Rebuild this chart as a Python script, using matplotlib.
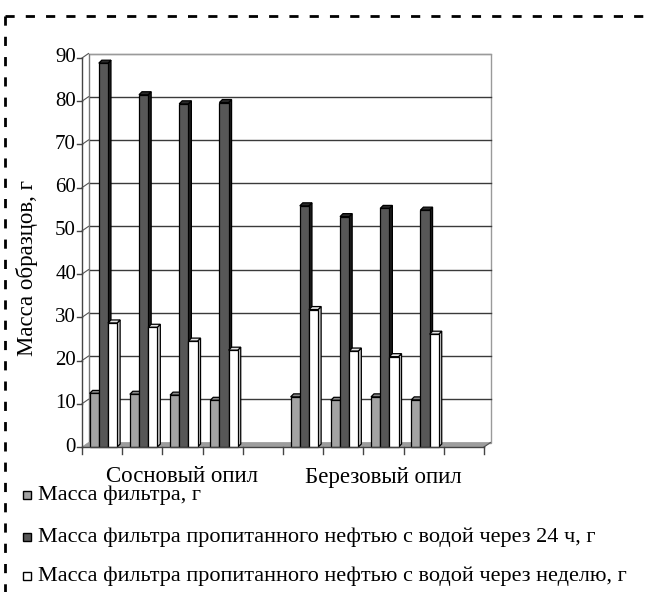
import matplotlib
matplotlib.use("Agg")
import matplotlib.pyplot as plt
from matplotlib.patches import Polygon, Rectangle
from matplotlib.lines import Line2D

plt.rcParams['font.family'] = ['Liberation Serif', 'DejaVu Serif']

# ---- data ----
categories = ["Сосновый опил", "Березовый опил"]
series_names = [
    "Масса фильтра, г",
    "Масса фильтра пропитанного нефтью с водой через 24 ч, г",
    "Масса фильтра пропитанного нефтью с водой через неделю, г",
]
filter_mass = [12.4, 12.2, 12.0, 10.8, 11.6, 10.8, 11.6, 10.9]
mass_24h = [88.8, 81.5, 79.4, 79.7, 55.8, 53.3, 55.2, 54.8]
mass_week = [28.7, 27.7, 24.5, 22.4, 31.8, 22.2, 20.9, 26.1]
slots = [0, 1, 2, 3, 5, 6, 7, 8]          # slot 4 and 9 are empty
n_slots = 10
y_ticks = [0, 10, 20, 30, 40, 50, 60, 70, 80, 90]
y_label = "Масса образцов, г"

# face / side / top colours for each series
front_cols = ["#a3a3a3", "#575757", "#ffffff"]
side_cols = ["#6e6e6e", "#1c1c1c", "#d0d0d0"]
top_cols = ["#8a8a8a", "#2a2a2a", "#e6e6e6"]

W, H = 647, 592
fig = plt.figure(figsize=(W / 100, H / 100), dpi=100)

# front plane of the 3-D box: x 82..484 px, y 447..58 px
x0, x1, yb, yt = 82, 484, 447, 58
ax = fig.add_axes([x0 / W, (H - yb) / H, (x1 - x0) / W, (yb - yt) / H])
ax.set_xlim(0, n_slots)
ax.set_ylim(0, 90)
ax.axis("off")

px_x = n_slots / (x1 - x0)   # data units per pixel
px_y = 90 / (yb - yt)
DX, DY = 6.5 * px_x, 4.5 * px_y   # wall depth
BX, BY = 3.0 * px_x, 3.0 * px_y   # bar depth

lw = 0.9
# back wall
ax.add_patch(Rectangle((DX, DY), n_slots, 90, facecolor="white",
                       edgecolor="#9a9a9a", lw=1.0, zorder=1, clip_on=False))
# floor
ax.add_patch(Polygon([(0, 0), (n_slots, 0), (n_slots + DX, DY), (DX, DY)],
                     closed=True, facecolor="#9d9d9d", edgecolor="#9d9d9d",
                     lw=0.5, zorder=1.5, clip_on=False))
# gridlines on back wall and left wall
for v in y_ticks[1:]:
    col = "#9a9a9a" if v == 90 else "#3a3a3a"
    ax.add_line(Line2D([DX, n_slots + DX], [v + DY, v + DY], color=col,
                       lw=1.0, zorder=1.2, clip_on=False))
    ax.add_line(Line2D([0, DX], [v, v + DY], color="#555555", lw=0.8,
                       zorder=1.2, clip_on=False))
ax.add_line(Line2D([DX, DX], [DY, 90 + DY], color="#777777", lw=0.8,
                   zorder=1.2, clip_on=False))
ax.add_line(Line2D([n_slots, n_slots + DX], [0, DY], color="#555555", lw=0.8,
                   zorder=1.6, clip_on=False))

# bars
bar_w = 0.228
start = 0.19
for s, vals in enumerate([filter_mass, mass_24h, mass_week]):
    for slot, v in zip(slots, vals):
        xl = slot + start + s * bar_w
        xr = xl + bar_w
        z = 3 + slot * 3 + s
        ax.bar(xl, v, width=bar_w, align="edge", color=front_cols[s],
               edgecolor="black", lw=lw, zorder=z, clip_on=False)
        ax.add_patch(Polygon([(xr, 0), (xr + BX, BY), (xr + BX, v + BY), (xr, v)],
                             closed=True, facecolor=side_cols[s],
                             edgecolor="black", lw=lw, zorder=z - 0.1,
                             clip_on=False))
        ax.add_patch(Polygon([(xl, v), (xl + BX, v + BY), (xr + BX, v + BY), (xr, v)],
                             closed=True, facecolor=top_cols[s],
                             edgecolor="black", lw=lw, zorder=z - 0.1,
                             clip_on=False))

# axes lines
ax.add_line(Line2D([0, 0], [0, 90], color="#444444", lw=1.0, zorder=50, clip_on=False))
ax.add_line(Line2D([0, n_slots], [0, 0], color="#444444", lw=1.0, zorder=50, clip_on=False))
tick_px = 5
for v in y_ticks:
    ax.add_line(Line2D([0, -tick_px * px_x], [v, v], color="#444444", lw=1.0,
                       zorder=50, clip_on=False))
    ax.text(-6 * px_x, v, str(v), ha="right", va="center", fontsize=15,
            zorder=50)
for i in range(n_slots + 1):
    ax.add_line(Line2D([i, i], [0, -7 * px_y], color="#444444", lw=1.0,
                       zorder=50, clip_on=False))
for k, name in enumerate(categories):
    ax.text(k * 5 + 2.5, -30 * px_y, name, ha="center", va="center",
            fontsize=16.5)

fig.text(27 / W, 1 - 268 / H, y_label, rotation=90, ha="center",
         va="center", fontsize=16.5)

# legend
leg_y = [495, 537, 576]
for s, name in enumerate(series_names):
    y = 1 - leg_y[s] / H
    fig.patches.append(Rectangle((23 / W, y - 4 / H), 8 / W, 8 / H,
                                 transform=fig.transFigure,
                                 facecolor=front_cols[s], edgecolor="black",
                                 lw=1.0))
    fig.text(38 / W, y, name, ha="left", va="center", fontsize=16)

# dashed frame
dash = dict(color="black", lw=2.0, linestyle=(0, (3.3, 4.0)))
fig.lines.append(Line2D([5 / W, 1.0], [1 - 16 / H, 1 - 16 / H],
                        transform=fig.transFigure, **dash))
fig.lines.append(Line2D([5 / W, 5 / W], [1 - 16 / H, 0.0],
                        transform=fig.transFigure, **dash))

fig.savefig("out.png", dpi=100)
